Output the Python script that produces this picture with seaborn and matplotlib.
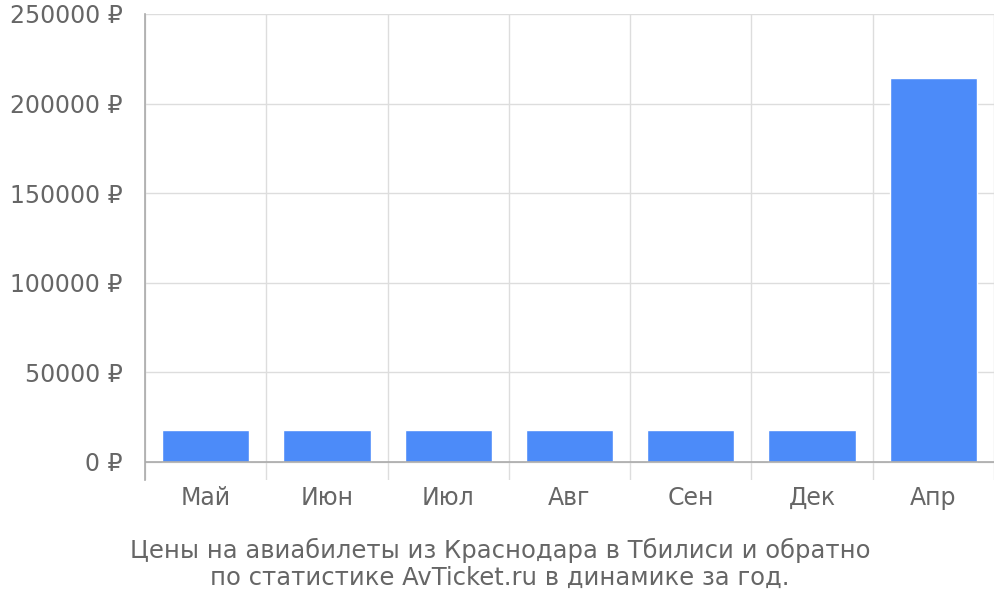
import pandas as pd
import seaborn as sns
import matplotlib.pyplot as plt
from matplotlib.ticker import FuncFormatter, MultipleLocator

# monthly ticket prices, rubles
months = ["Май", "Июн", "Июл", "Авг", "Сен", "Дек", "Апр"]
prices = [17800, 17800, 17800, 17800, 17800, 17800, 214300]
yticks = [0, 50000, 100000, 150000, 200000, 250000]
caption = ["Цены на авиабилеты из Краснодара в Тбилиси и обратно",
           "по статистике AvTicket.ru в динамике за год."]

text_col = "#666666"
grid_col = "#dddddd"
axis_col = "#aaaaaa"

sns.set_style("white")
plt.rcParams["font.family"] = ["DejaVu Sans"]

df = pd.DataFrame({"month": months, "price": prices})

fig = plt.figure(figsize=(10, 6), dpi=100)
ax = fig.add_axes([0.145, 0.2, 0.849, 0.7767])

sns.barplot(data=df, x="month", y="price", color="#4c8bf9", width=0.72,
            saturation=1, ax=ax, zorder=3)

ax.set_xlim(-0.5, len(months) - 0.5)
ax.set_ylim(-10045, 250000)
ax.set_yticks(yticks)
ax.yaxis.set_major_formatter(FuncFormatter(lambda v, p: f"{int(v)} ₽"))
ax.xaxis.set_minor_locator(MultipleLocator(1, offset=0.5))

ax.grid(False)
ax.grid(axis="y", which="major", color=grid_col, lw=1, zorder=0)
ax.grid(axis="x", which="minor", color=grid_col, lw=1, zorder=0)
ax.axhline(0, color=axis_col, lw=1.2, zorder=4)

for s in ["top", "right", "bottom"]:
    ax.spines[s].set_visible(False)
ax.spines["left"].set_color(axis_col)
ax.spines["left"].set_linewidth(1.2)

ax.tick_params(axis="y", length=14, color=grid_col, labelcolor=text_col,
               labelsize=17, pad=2)
ax.tick_params(axis="x", which="major", length=0, labelcolor=text_col,
               labelsize=17, pad=18)
ax.tick_params(axis="x", which="minor", length=0)
for lbl in ax.get_xticklabels():
    lbl.set_verticalalignment("baseline")
ax.set_xlabel("")
ax.set_ylabel("")

fig.text(0.5, 1 - 558 / 600, caption[0], ha="center", va="baseline",
         color=text_col, fontsize=17.5)
fig.text(0.5, 1 - 585 / 600, caption[1], ha="center", va="baseline",
         color=text_col, fontsize=17.5)

fig.savefig("out.png", dpi=100)
